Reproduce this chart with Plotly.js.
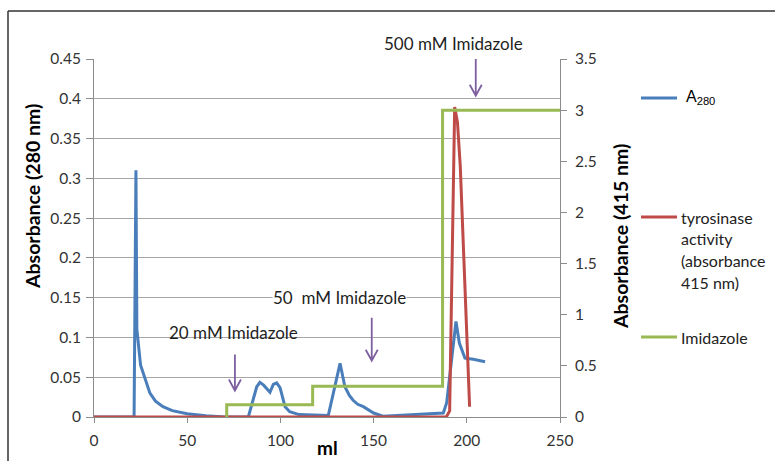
<!DOCTYPE html>
<html>
<head>
<meta charset="utf-8">
<script src="https://cdn.plot.ly/plotly-3.0.1.min.js"></script>
<style>html,body{margin:0;padding:0;background:#fff;}#chart{width:775px;height:461px;}</style>
</head>
<body>
<div id="chart"></div>
<script>
// ---- data ----
const mlA280 = [0, 21.5, 22.5, 23, 25, 27, 30, 33, 37, 42, 50, 60, 70, 82.8, 85.5, 87.3, 89, 91, 94.4, 96.2, 98, 99.8, 102.5, 105, 110, 120, 125.7, 128.4, 132, 134.6, 137, 139, 141.5, 144.5, 150, 155, 165, 175, 187.4, 189.2, 191, 192.8, 194.2, 196, 199, 203.5, 209.8];
const a280   = [0, 0, 0.31, 0.11, 0.065, 0.05, 0.03, 0.02, 0.013, 0.008, 0.004, 0.0015, 0, 0, 0.021, 0.038, 0.0436, 0.04, 0.031, 0.041, 0.043, 0.037, 0.013, 0.0067, 0.003, 0.002, 0.002, 0.03, 0.0675, 0.038, 0.027, 0.021, 0.016, 0.013, 0.005, 0.001, 0.002, 0.003, 0.005, 0.018, 0.055, 0.084, 0.12, 0.093, 0.074, 0.0725, 0.0695];

const mlTyr = [0, 189, 190.8, 193.5, 195, 196.5, 201.5];
const tyr   = [0, 0, 0.06, 3.03, 2.88, 2.45, 0.1];

const mlImid = [71.2, 71.2, 117.3, 117.3, 187, 187, 250];
const imid   = [0, 0.12, 0.12, 0.3, 0.3, 3, 3];

const xTicks  = [0, 50, 100, 150, 200, 250];
const yTicks  = [0, 0.05, 0.1, 0.15, 0.2, 0.25, 0.3, 0.35, 0.4, 0.45];
const y2Ticks = [0, 0.5, 1, 1.5, 2, 2.5, 3, 3.5];

const seriesNames = ['A<sub>280</sub>', 'tyrosinase', 'Imidazole'];
const tyrLegendLines = ['tyrosinase', 'activity', '(absorbance', '415 nm)'];

// step labels and arrows
const stepLabels = ['20 mM Imidazole', '50  mM Imidazole', '500 mM Imidazole'];
const arrowX   = [75.6, 149, 204.8];     // ml
const arrowTip = [0.032, 0.0695, 0.4026]; // A280 units

// ---- styling ----
const BLUE = '#4A7EBB', RED = '#BE4B48', GREEN = '#98B954', PURPLE = '#7D5FA0';
const GRID = '#A6A6A6', AXIS = '#8C8C8C';
const FONT = 'Lato, "Open Sans", sans-serif';

const traces = [
  {x: mlA280, y: a280, type: 'scatter', mode: 'lines', name: 'A280',
   line: {color: BLUE, width: 3}, yaxis: 'y', showlegend: false},
  {x: mlTyr, y: tyr, type: 'scatter', mode: 'lines', name: 'tyrosinase activity (absorbance 415 nm)',
   line: {color: RED, width: 3}, yaxis: 'y2', showlegend: false},
  {x: mlImid, y: imid, type: 'scatter', mode: 'lines', name: 'Imidazole',
   line: {color: GREEN, width: 3}, yaxis: 'y2', showlegend: false}
];

// plot-area geometry used to place the manual legend / frame in paper units
const L = 94, R = 215, T = 59, B = 44, W = 775, H = 461;
const pw = W - L - R, ph = H - T - B;
const px = v => (v - L) / pw;
const py = v => (H - B - v) / ph;

const labelPx = [[233, 332], [339, 297], [453, 43]];
const arrowLen = [37, 44, 45];

const annotations = [];
const shapes = [];

for (let i = 0; i < stepLabels.length; i++) {
  annotations.push({x: px(labelPx[i][0]), y: py(labelPx[i][1]), xref: 'paper', yref: 'paper',
    xanchor: 'center', yanchor: 'middle', text: stepLabels[i],
    showarrow: false, font: {family: FONT, size: 17, color: '#1e1e1e'},
    bgcolor: i === 1 ? 'rgba(255,255,255,1)' : 'rgba(0,0,0,0)', borderpad: 0});
  // arrow: shaft + open chevron head, anchored at the tip (data coords), sized in pixels
  shapes.push({type: 'path', xref: 'x', yref: 'y', xsizemode: 'pixel', ysizemode: 'pixel',
    xanchor: arrowX[i], yanchor: arrowTip[i],
    path: `M0,${arrowLen[i]} L0,1 M-6,12 L0,1 L6,12`,
    line: {color: PURPLE, width: 1.8}});
}

// axis titles
annotations.push({x: px(33), y: py(196), xref: 'paper', yref: 'paper', xanchor: 'center', yanchor: 'middle',
  text: '<b>Absorbance (280 nm)</b>', textangle: -90, showarrow: false, font: {family: FONT, size: 19.5, color: '#000'}});
annotations.push({x: px(620), y: py(237), xref: 'paper', yref: 'paper', xanchor: 'center', yanchor: 'middle',
  text: '<b>Absorbance (415 nm)</b>', textangle: -90, showarrow: false, font: {family: FONT, size: 19.5, color: '#000'}});
annotations.push({x: px(327), y: py(447), xref: 'paper', yref: 'paper', xanchor: 'center', yanchor: 'middle',
  text: '<b>ml</b>', showarrow: false, font: {family: FONT, size: 19, color: '#000'}});

// manual legend
const legY = [98, 217, 337];
const legColors = [BLUE, RED, GREEN];
for (let i = 0; i < 3; i++) {
  shapes.push({type: 'line', xref: 'paper', yref: 'paper', x0: px(641), x1: px(677), y0: py(legY[i]), y1: py(legY[i]),
    line: {color: legColors[i], width: 3}});
}
annotations.push({x: px(684), y: py(98), xref: 'paper', yref: 'paper', xanchor: 'left', yanchor: 'middle',
  text: seriesNames[0], showarrow: false, font: {family: '"Liberation Sans", Arial, sans-serif', size: 16, color: '#000'}});
tyrLegendLines.forEach((t, k) => {
  annotations.push({x: px(679), y: py(217 + k * 21.8), xref: 'paper', yref: 'paper', xanchor: 'left', yanchor: 'middle',
    text: t, showarrow: false, font: {family: FONT, size: 16, color: '#222'}});
});
annotations.push({x: px(679), y: py(337), xref: 'paper', yref: 'paper', xanchor: 'left', yanchor: 'middle',
  text: seriesNames[2], showarrow: false, font: {family: FONT, size: 16, color: '#222'}});

// outer frame (left and top edges visible in the reference)
shapes.push({type: 'line', xref: 'paper', yref: 'paper', x0: px(8), x1: px(8), y0: py(470), y1: py(11),
  line: {color: '#333', width: 1.5}});
shapes.push({type: 'line', xref: 'paper', yref: 'paper', x0: px(8), x1: px(790), y0: py(11), y1: py(11),
  line: {color: '#333', width: 1.5}});

const TICKFONT = {family: FONT, size: 15.5, color: '#333'};
const layout = {
  width: W, height: H,
  margin: {l: L, r: R, t: T, b: B, pad: 0},
  paper_bgcolor: '#fff', plot_bgcolor: '#fff',
  font: {family: FONT, size: 15, color: '#333'},
  showlegend: false,
  xaxis: {range: [0, 250], tickvals: xTicks, ticktext: xTicks.map(String), showgrid: false, zeroline: false,
    showline: true, linecolor: AXIS, linewidth: 1, ticks: 'outside', ticklen: 5, tickcolor: AXIS,
    tickfont: TICKFONT, ticklabelstandoff: 4},
  yaxis: {range: [0, 0.45], tickvals: yTicks, ticktext: yTicks.map(String), showgrid: true, gridcolor: GRID, gridwidth: 1,
    zeroline: false, showline: true, linecolor: AXIS, ticks: 'outside', ticklen: 7, tickcolor: AXIS,
    tickfont: TICKFONT, ticklabelstandoff: 2},
  yaxis2: {range: [0, 3.5], tickvals: y2Ticks, ticktext: y2Ticks.map(String), overlaying: 'y', side: 'right',
    showgrid: false, zeroline: false, showline: true, linecolor: AXIS, ticks: 'outside', ticklen: 6, tickcolor: AXIS,
    tickfont: TICKFONT, ticklabelstandoff: 5},
  annotations: annotations,
  shapes: shapes
};

Plotly.newPlot('chart', traces, layout, {displayModeBar: false, staticPlot: true});
</script>
</body>
</html>
